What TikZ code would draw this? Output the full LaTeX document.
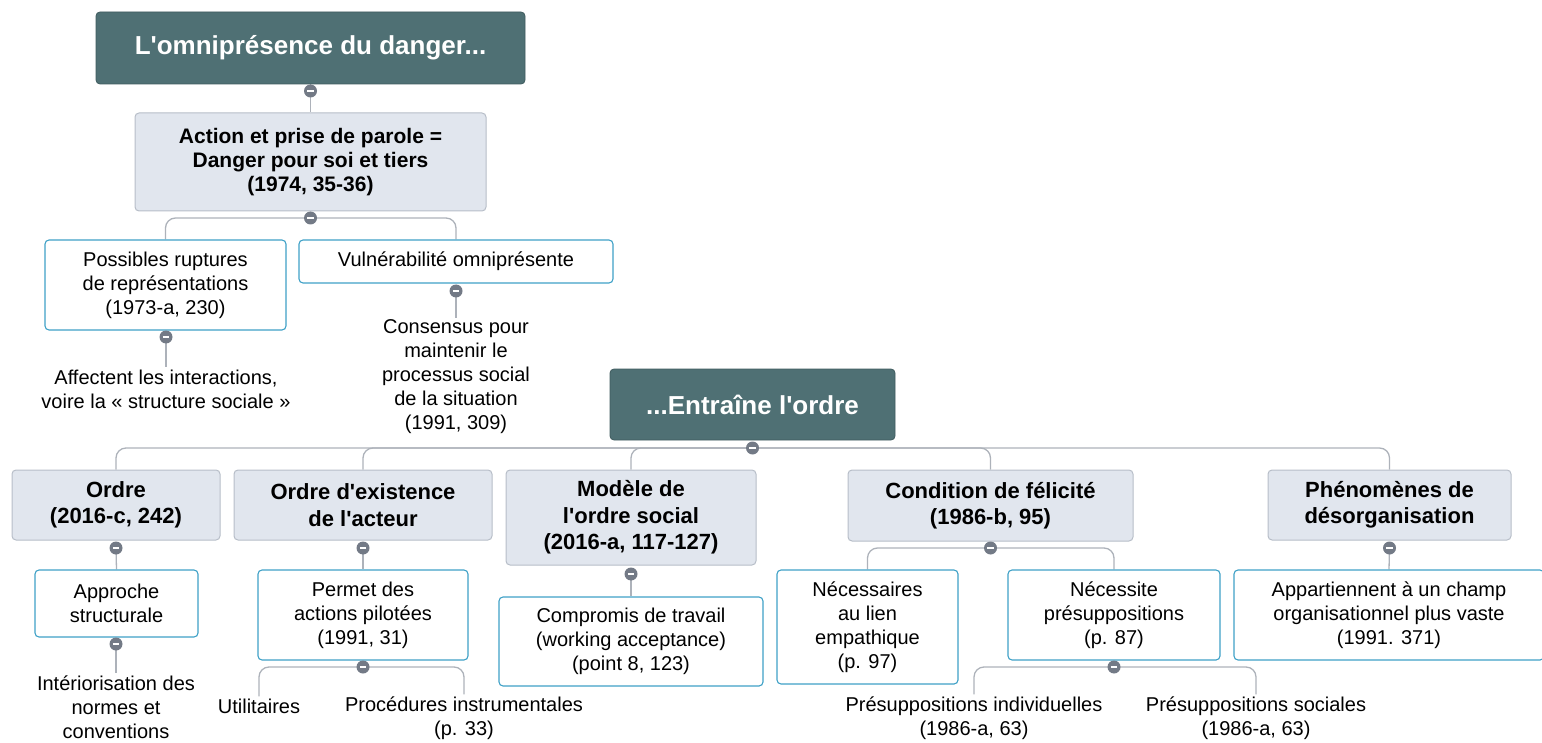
\documentclass[tikz,border=0pt]{standalone}
\usepackage{fontspec}
\setmainfont{Liberation Sans}
\usetikzlibrary{backgrounds}
\definecolor{teal1}{HTML}{4F7074}
\definecolor{tealdark}{HTML}{3F5B5E}
\definecolor{lvlfill}{HTML}{E1E6EE}
\definecolor{lvlborder}{HTML}{B7BEC8}
\definecolor{leafborder}{HTML}{3FA1C7}
\definecolor{conncol}{HTML}{ADB2BA}
\definecolor{knobcol}{HTML}{737A86}
\newcommand{\sq}{\textquotesingle}
\tikzset{
 titlebox/.style={draw=tealdark, fill=teal1, rounded corners=4pt, text=white, align=center, font=\bfseries\fontsize{26}{31}\selectfont, inner sep=0pt, line width=0.8pt},
 lvlbox/.style={draw=lvlborder, fill=lvlfill, rounded corners=4pt, align=center, font=\bfseries\fontsize{22}{26.5}\selectfont, inner sep=0pt, line width=1pt},
 actbox/.style={lvlbox, font=\bfseries\fontsize{21}{24}\selectfont},
 leafbox/.style={draw=leafborder, fill=white, rounded corners=4pt, align=center, font=\fontsize{20}{24}\selectfont, inner sep=0pt, line width=1.1pt},
 plaintext/.style={align=center, font=\fontsize{20}{24}\selectfont, inner sep=2pt},
 conn/.style={draw=conncol, line width=1.3pt, rounded corners=10pt},
 sz/.style 2 args={minimum width=#1pt, minimum height=#2pt},
 knob/.style={circle, fill=knobcol, minimum size=13pt, inner sep=0pt,
   path picture={\draw[white, line width=2pt] ([xshift=-3.2pt]path picture bounding box.center) -- ([xshift=3.2pt]path picture bounding box.center);}},
}
\begin{document}
\begin{tikzpicture}[x=1pt,y=-1pt]
\useasboundingbox (0,0) rectangle (1542,743);
% top part
\node[titlebox, sz={429}{72}] (t1) at (310.5,48) {L\sq omniprésence du danger...};
\node[actbox, sz={351}{98}] (act) at (310.5,162) {Action et prise de parole =\\Danger pour soi et tiers\\(1974, 35-36)};
\node[leafbox, sz={241}{90}] (pos) at (165.5,285) {Possibles ruptures\\de représentations\\(1973-a, 230)};
\node[leafbox, sz={314}{43}] (vul) at (456,261.5) {Vulnérabilité omniprésente};
\node[plaintext] (aff) at (166,389) {Affectent les interactions,\\voire la « structure sociale »};
\node[plaintext] (con) at (456,377) {Consensus pour\\maintenir le\\processus social\\de la situation\\(1991, 309)};
% second part
\node[titlebox, sz={285}{71}] (t2) at (752.5,404.5) {...Entraîne l\sq ordre};
\node[lvlbox, sz={208}{70}] (ord) at (116,505) {Ordre\\(2016-c, 242)};
\node[lvlbox, sz={258}{70}] (oex) at (363,505) {Ordre d\sq existence\\de l\sq acteur};
\node[lvlbox, sz={250}{95}] (mod) at (631,517.5) {Modèle de\\l\sq ordre social\\(2016-a, 117-127)};
\node[lvlbox, sz={285}{71}] (cond) at (990.5,505.5) {Condition de félicité\\(1986-b, 95)};
\node[lvlbox, sz={243}{70}] (phen) at (1389.5,505) {Phénomènes de\\désorganisation};
\node[leafbox, sz={163}{67}] (appr) at (116.5,603.5) {Approche\\structurale};
\node[plaintext] (inte) at (116,707) {Intériorisation des\\normes et\\conventions};
\node[leafbox, sz={210}{90}] (perm) at (363,615) {Permet des\\actions pilotées\\(1991, 31)};
\node[plaintext] (util) at (259,706) {Utilitaires};
\node[plaintext] (proc) at (464,718) {Procédures instrumentales\\(p. 33)};
\node[leafbox, sz={264}{89}] (comp) at (631,641.5) {Compromis de travail\\(working acceptance)\\(point 8, 123)};
\node[leafbox, sz={181}{114}] (nec) at (867.5,627) {Nécessaires\\au lien\\empathique\\(p. 97)};
\node[leafbox, sz={212}{90}] (nect) at (1114,615) {Nécessite\\présuppositions\\(p. 87)};
\node[plaintext] (psi) at (974,718) {Présuppositions individuelles\\(1986-a, 63)};
\node[plaintext] (pss) at (1256,718) {Présuppositions sociales\\(1986-a, 63)};
\node[leafbox, sz={310}{90}] (apx) at (1389,615) {Appartiennent à un champ\\organisationnel plus vaste\\(1991. 371)};
% knobs
\node[knob] (k1) at (310.5,91) {};
\node[knob] (k2) at (310.5,218) {};
\node[knob] (k3) at (166,337) {};
\node[knob] (k4) at (456,291) {};
\node[knob] (k5) at (752.5,448) {};
\node[knob] (k6) at (116,548) {};
\node[knob] (k7) at (363,548) {};
\node[knob] (k8) at (631,574) {};
\node[knob] (k9) at (990.5,548) {};
\node[knob] (k10) at (1389.5,548) {};
\node[knob] (k11) at (116,644) {};
\node[knob] (k12) at (363,667) {};
\node[knob] (k13) at (1114,667) {};
% connectors
\begin{scope}[on background layer]
\draw[conn] (t1.south) -- (k1.center) -- (act.north);
\draw[conn] (k2.center) -| (pos.north);
\draw[conn] (k2.center) -| (vul.north);
\draw[conn] (k3.center) -- (aff.north);
\draw[conn] (k4.center) -- (con.north);
\draw[conn] (k5.center) -| (ord.north);
\draw[conn] (k5.center) -| (oex.north);
\draw[conn] (k5.center) -| (mod.north);
\draw[conn] (k5.center) -| (cond.north);
\draw[conn] (k5.center) -| (phen.north);
\draw[conn] (k6.center) -- (appr.north);
\draw[conn] (k11.center) -- (inte.north);
\draw[conn] (k7.center) -- (perm.north);
\draw[conn] (k12.center) -| (util.north);
\draw[conn] (k12.center) -| (proc.north);
\draw[conn] (k8.center) -- (comp.north);
\draw[conn] (k9.center) -| (nec.north);
\draw[conn] (k9.center) -| (nect.north);
\draw[conn] (k13.center) -| (psi.north);
\draw[conn] (k13.center) -| (pss.north);
\draw[conn] (k10.center) -- (apx.north);
\end{scope}
\end{tikzpicture}
\end{document}
